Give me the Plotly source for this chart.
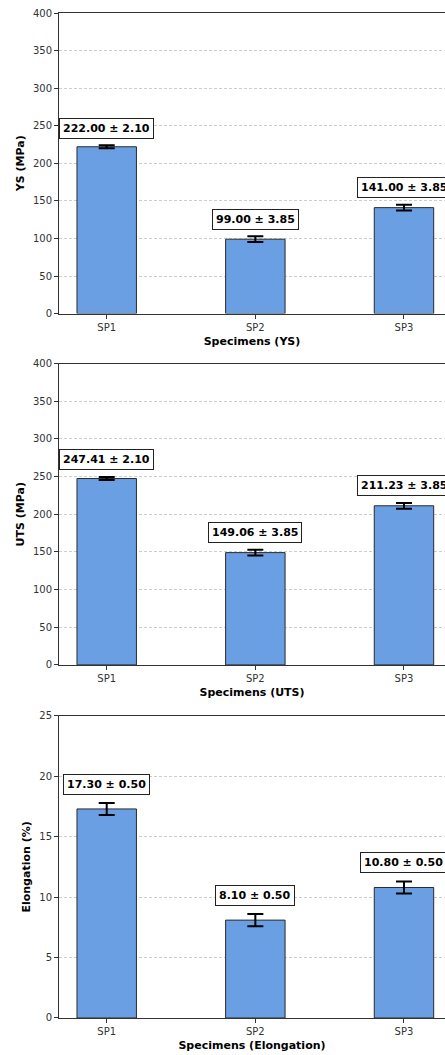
import plotly.graph_objects as go

# ---- data ----
categories = ["SP1", "SP2", "SP3"]
ys_values = [222.00, 99.00, 141.00]
ys_errors = [2.10, 3.85, 3.85]
uts_values = [247.41, 149.06, 211.23]
uts_errors = [2.10, 3.85, 3.85]
elong_values = [17.30, 8.10, 10.80]
elong_errors = [0.50, 0.50, 0.50]

panels = [
    dict(vals=ys_values, errs=ys_errors, ytitle="YS (MPa)", xtitle="Specimens (YS)",
         ymax=400, dtick=50, off=22.5, domain=[0.7009, 1.0]),
    dict(vals=uts_values, errs=uts_errors, ytitle="UTS (MPa)", xtitle="Specimens (UTS)",
         ymax=400, dtick=50, off=22.5, domain=[0.3513, 0.6512]),
    dict(vals=elong_values, errs=elong_errors, ytitle="Elongation (%)", xtitle="Specimens (Elongation)",
         ymax=25, dtick=5, off=1.55, domain=[0.0, 0.3006]),
]

FONT = "DejaVu Sans"
BAR = "#6aa0e3"
fig = go.Figure()
layout = dict(
    width=445, height=1055,
    margin=dict(l=59.3, r=0, t=12.5, b=36.7),
    paper_bgcolor="white", plot_bgcolor="white",
    showlegend=False, font=dict(family=FONT, size=10, color="#222"),
)
annotations = []
for i, p in enumerate(panels):
    n = "" if i == 0 else str(i + 1)
    xa, ya = "x" + n, "y" + n
    fig.add_trace(go.Bar(
        x=categories, y=p["vals"], width=0.4, xaxis=xa, yaxis=ya,
        marker=dict(color=BAR, line=dict(color="#2a2a2a", width=1)),
        error_y=dict(type="data", array=p["errs"], visible=True, color="black",
                     thickness=2, width=8),
    ))
    layout["xaxis" + n] = dict(
        type="category", domain=[0, 1], anchor=ya, range=[-0.321, 2.276],
        showline=True, linecolor="#333", linewidth=1, mirror=True,
        ticks="outside", ticklen=4, tickcolor="#333", showgrid=False,
        tickfont=dict(family=FONT, size=10, color="#333"),
        title=dict(text="<b>" + p["xtitle"] + "</b>", font=dict(family=FONT, size=11, color="black"),
                   standoff=5),
    )
    layout["yaxis" + n] = dict(
        domain=p["domain"], anchor=xa, range=[0, p["ymax"]], dtick=p["dtick"],
        showline=True, linecolor="#333", linewidth=1,
        ticks="outside", ticklen=4, tickcolor="#333",
        showgrid=True, gridcolor="#cccccc", gridwidth=0.7, griddash="3px,2px",
        zeroline=False, tickfont=dict(family=FONT, size=10, color="#333"),
        title=dict(text="<b>" + p["ytitle"] + "</b>", font=dict(family=FONT, size=11, color="black"),
                   standoff=6),
    )
    for c, v, e in zip(categories, p["vals"], p["errs"]):
        annotations.append(dict(
            x=c, y=v + e + p["off"], xref=xa, yref=ya, showarrow=False,
            text="<b>%.2f ± %.2f</b>" % (v, e), yanchor="middle", xanchor="center",
            font=dict(family=FONT, size=11, color="black"),
            bgcolor="white", bordercolor="#222", borderwidth=1, borderpad=3,
        ))
layout["annotations"] = annotations
fig.update_layout(**layout)
fig.write_html("out.html", config={"displayModeBar": False},
               post_script="document.body.style.margin='0';document.body.style.overflow='hidden';")
